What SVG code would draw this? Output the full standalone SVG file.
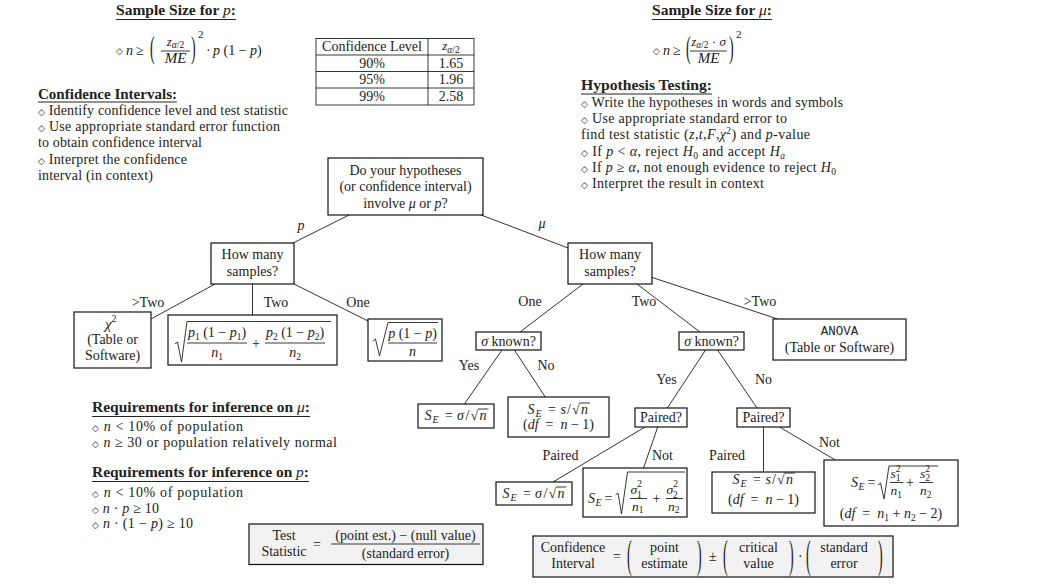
<svg xmlns="http://www.w3.org/2000/svg" width="1038" height="586" viewBox="0 0 1038 586">
<style>
svg{font-family:"Liberation Serif","Times New Roman",serif;font-size:14px}
text{fill:#222}
.h{font-weight:bold;font-size:15px}
.n{font-weight:normal}
.i{font-style:italic}
.c{text-anchor:middle}
.s{font-size:9.5px}
.d{font-family:"DejaVu Sans",sans-serif;font-size:9px}
.mono{font-family:"Liberation Mono",monospace;font-size:12.5px}
.ul{stroke:#222;stroke-width:1}
.box{fill:#fff;stroke:#111;stroke-width:1.2}
.gbox{fill:#f2f2f2;stroke:#111;stroke-width:1.2}
.edge{stroke:#333;stroke-width:1;fill:none}
.rule{stroke:#222;stroke-width:0.9}
.rad{stroke:#222;stroke-width:0.9;fill:none;stroke-linejoin:round}
.tbl{stroke:#222;stroke-width:0.9;fill:none}
</style>
<rect width="1038" height="586" fill="#fff"/>

<g id="sample-size-p">
<text class="h" x="116" y="15" textLength="120" lengthAdjust="spacingAndGlyphs">Sample Size for <tspan class="i n">p</tspan>:</text>
<line class="ul" x1="116" y1="19.5" x2="236" y2="19.5"/>
<text class="d" x="116" y="54">◇</text>
<text class="i" x="126" y="55">n</text>
<text x="136" y="55">≥</text>
<text transform="translate(150,57.8) scale(1,2.3)">(</text>
<text class="c" x="175.5" y="46" font-size="13"><tspan class="i">z</tspan><tspan class="i" font-size="9.5" dy="2">α</tspan><tspan font-size="9.5">/2</tspan></text>
<line class="rule" x1="161" y1="51" x2="190" y2="51"/>
<text class="i c" x="175.5" y="63" font-size="15">ME</text>
<text transform="translate(191,57.8) scale(1,2.3)">)</text>
<text x="198" y="38" font-size="11">2</text>
<text x="206" y="55">·</text>
<text x="213" y="55"><tspan class="i">p</tspan> (1 − <tspan class="i">p</tspan>)</text>
</g>

<g id="z-table">
<rect class="tbl" x="316" y="38.5" width="158" height="66.5"/>
<line class="tbl" x1="428" y1="38.5" x2="428" y2="105"/>
<line class="tbl" x1="316" y1="55" x2="474" y2="55"/>
<line class="tbl" x1="316" y1="71.5" x2="474" y2="71.5"/>
<line class="tbl" x1="316" y1="88" x2="474" y2="88"/>
<text class="c" x="372" y="51">Confidence Level</text>
<text class="c" x="451" y="50"><tspan class="i" font-size="13">z</tspan><tspan class="i" font-size="9.5" dy="2.5">α</tspan><tspan font-size="9.5">/2</tspan></text>
<text class="c" x="372" y="67.5">90%</text>
<text class="c" x="451" y="67.5">1.65</text>
<text class="c" x="372" y="84">95%</text>
<text class="c" x="451" y="84">1.96</text>
<text class="c" x="372" y="100.5">99%</text>
<text class="c" x="451" y="100.5">2.58</text>
</g>

<g id="confidence-intervals">
<text class="h" x="38" y="98.5" textLength="139" lengthAdjust="spacingAndGlyphs">Confidence Intervals:</text>
<line class="ul" x1="38" y1="102" x2="177" y2="102"/>
<text x="38" y="114.5" textLength="250"><tspan class="d">◇</tspan> Identify confidence level and test statistic</text>
<text x="38" y="131" textLength="242"><tspan class="d">◇</tspan> Use appropriate standard error function</text>
<text x="38" y="147" textLength="164">to obtain confidence interval</text>
<text x="38" y="163.5" textLength="149"><tspan class="d">◇</tspan> Interpret the confidence</text>
<text x="38" y="180" textLength="115">interval (in context)</text>
</g>

<g id="sample-size-mu">
<text class="h" x="652" y="15" textLength="120" lengthAdjust="spacingAndGlyphs">Sample Size for <tspan class="i n">μ</tspan>:</text>
<line class="ul" x1="652" y1="19.5" x2="772" y2="19.5"/>
<text class="d" x="653" y="54">◇</text>
<text class="i" x="663" y="55">n</text>
<text x="673" y="55">≥</text>
<text transform="translate(686,57.8) scale(1,2.3)">(</text>
<text class="c" x="708.5" y="46" font-size="13"><tspan class="i">z</tspan><tspan class="i" font-size="9.5" dy="2">α</tspan><tspan font-size="9.5">/2</tspan><tspan dy="-2"> · </tspan><tspan class="i">σ</tspan></text>
<line class="rule" x1="690" y1="51" x2="727" y2="51"/>
<text class="i c" x="708.5" y="63" font-size="15">ME</text>
<text transform="translate(729,57.8) scale(1,2.3)">)</text>
<text x="736" y="38" font-size="11">2</text>
</g>

<g id="hypothesis-testing">
<text class="h" x="581" y="90" textLength="131" lengthAdjust="spacingAndGlyphs">Hypothesis Testing:</text>
<line class="ul" x1="581" y1="94" x2="712" y2="94"/>
<text x="581" y="107" textLength="262"><tspan class="d">◇</tspan> Write the hypotheses in words and symbols</text>
<text x="581" y="123" textLength="206"><tspan class="d">◇</tspan> Use appropriate standard error to</text>
<text x="581" y="139" textLength="229">find test statistic (<tspan class="i">z</tspan>,<tspan class="i">t</tspan>,<tspan class="i">F</tspan>,<tspan class="i">χ</tspan><tspan font-size="9.5" dy="-5">2</tspan><tspan dy="5">) and </tspan><tspan class="i">p</tspan>-value</text>
<text x="581" y="156" textLength="204"><tspan class="d">◇</tspan> If <tspan class="i">p</tspan> &lt; <tspan class="i">α</tspan>, reject <tspan class="i">H</tspan><tspan font-size="9.5" dy="2.5">0</tspan><tspan dy="-2.5"> and accept </tspan><tspan class="i">H</tspan><tspan class="i" font-size="9.5" dy="2.5">a</tspan></text>
<text x="581" y="172" textLength="255"><tspan class="d">◇</tspan> If <tspan class="i">p</tspan> ≥ <tspan class="i">α</tspan>, not enough evidence to reject <tspan class="i">H</tspan><tspan font-size="9.5" dy="2.5">0</tspan></text>
<text x="581" y="188" textLength="183"><tspan class="d">◇</tspan> Interpret the result in context</text>
</g>

<g id="requirements">
<text class="h" x="92" y="412" textLength="218" lengthAdjust="spacingAndGlyphs">Requirements for inference on <tspan class="i n">μ</tspan>:</text>
<line class="ul" x1="92" y1="416.5" x2="310" y2="416.5"/>
<text x="92" y="431" textLength="151"><tspan class="d">◇</tspan> <tspan class="i">n</tspan> &lt; 10% of population</text>
<text x="92" y="447" textLength="245"><tspan class="d">◇</tspan> <tspan class="i">n</tspan> ≥ 30 or population relatively normal</text>
<text class="h" x="92" y="477" textLength="217" lengthAdjust="spacingAndGlyphs">Requirements for inference on <tspan class="i n">p</tspan>:</text>
<line class="ul" x1="92" y1="481.5" x2="309" y2="481.5"/>
<text x="92" y="497" textLength="151"><tspan class="d">◇</tspan> <tspan class="i">n</tspan> &lt; 10% of population</text>
<text x="92" y="512.5" textLength="67"><tspan class="d">◇</tspan> <tspan class="i">n</tspan> · <tspan class="i">p</tspan> ≥ 10</text>
<text x="92" y="528" textLength="101"><tspan class="d">◇</tspan> <tspan class="i">n</tspan> · (1 − <tspan class="i">p</tspan>) ≥ 10</text>
</g>

<g id="connectors">
<line class="edge" x1="349" y1="215" x2="293" y2="243"/>
<line class="edge" x1="481" y1="215" x2="568" y2="248"/>
<line class="edge" x1="215" y1="284" x2="151" y2="319"/>
<line class="edge" x1="252.5" y1="284" x2="252.5" y2="315"/>
<line class="edge" x1="294" y1="284" x2="368" y2="321"/>
<line class="edge" x1="583" y1="284" x2="520" y2="332"/>
<line class="edge" x1="637" y1="284" x2="700" y2="332"/>
<line class="edge" x1="652" y1="277.4" x2="777.6" y2="319"/>
<line class="edge" x1="502" y1="350" x2="464.4" y2="404"/>
<line class="edge" x1="514.4" y1="350" x2="545.3" y2="397"/>
<line class="edge" x1="705.6" y1="350" x2="667.3" y2="408"/>
<line class="edge" x1="717.6" y1="350" x2="757" y2="408"/>
<line class="edge" x1="645" y1="427" x2="553" y2="482"/>
<line class="edge" x1="657.7" y1="427" x2="643.5" y2="468"/>
<line class="edge" x1="763.5" y1="427" x2="763.5" y2="472"/>
<line class="edge" x1="779.5" y1="427" x2="835.3" y2="460"/>
</g>

<g id="edge-labels">
<text class="i c" x="301" y="230">p</text>
<text class="i c" x="542" y="228">μ</text>
<text class="c" x="148" y="307">&gt;Two</text>
<text class="c" x="276" y="307">Two</text>
<text class="c" x="358" y="307">One</text>
<text class="c" x="530" y="306">One</text>
<text class="c" x="644" y="306">Two</text>
<text class="c" x="760" y="306">&gt;Two</text>
<text class="c" x="469" y="370">Yes</text>
<text class="c" x="546" y="370">No</text>
<text class="c" x="666.5" y="384">Yes</text>
<text class="c" x="763.5" y="384">No</text>
<text class="c" x="560.5" y="460">Paired</text>
<text class="c" x="662.5" y="460">Not</text>
<text class="c" x="727" y="460">Paired</text>
<text class="c" x="829.5" y="447">Not</text>
</g>

<g id="node-root">
<rect class="box" x="328" y="158" width="155" height="57"/>
<text class="c" x="405.5" y="174.5">Do your hypotheses</text>
<text class="c" x="405.5" y="190.5">(or confidence interval)</text>
<text class="c" x="405.5" y="207.5">involve <tspan class="i">μ</tspan> or <tspan class="i">p</tspan>?</text>
</g>

<g id="node-samples-p">
<rect class="box" x="211" y="243" width="83" height="41"/>
<text class="c" x="252.5" y="259">How many</text>
<text class="c" x="252.5" y="276">samples?</text>
</g>

<g id="node-samples-mu">
<rect class="box" x="568" y="243" width="84" height="41"/>
<text class="c" x="610" y="259">How many</text>
<text class="c" x="610" y="276">samples?</text>
</g>

<g id="node-chi2">
<rect class="box" x="74" y="312" width="77" height="56"/>
<text x="105" y="328.5"><tspan class="i" font-size="15">χ</tspan><tspan font-size="10" dy="-6.5">2</tspan></text>
<text class="c" x="112.5" y="344">(Table or</text>
<text class="c" x="112.5" y="360">Software)</text>
</g>

<g id="node-two-prop">
<rect class="box" x="168" y="315" width="169" height="50"/>
<polyline class="rad" points="175,344 177.5,342 181.5,362 187,321.5 331,321.5"/>
<text class="c" x="217" y="337"><tspan class="i">p</tspan><tspan class="s" dy="2.5">1</tspan><tspan dy="-2.5"> (1 − </tspan><tspan class="i">p</tspan><tspan class="s" dy="2.5">1</tspan><tspan dy="-2.5">)</tspan></text>
<line class="rule" x1="187" y1="343" x2="247" y2="343"/>
<text class="c" x="217" y="357"><tspan class="i">n</tspan><tspan class="s" dy="2.5">1</tspan></text>
<text class="c" x="256" y="347.5">+</text>
<text class="c" x="295" y="337"><tspan class="i">p</tspan><tspan class="s" dy="2.5">2</tspan><tspan dy="-2.5"> (1 − </tspan><tspan class="i">p</tspan><tspan class="s" dy="2.5">2</tspan><tspan dy="-2.5">)</tspan></text>
<line class="rule" x1="265" y1="343" x2="325" y2="343"/>
<text class="c" x="295" y="357"><tspan class="i">n</tspan><tspan class="s" dy="2.5">2</tspan></text>
</g>

<g id="node-one-prop">
<rect class="box" x="368" y="319" width="74" height="42"/>
<polyline class="rad" points="373,341 375.5,339 379.5,356 388,322.5 438,322.5"/>
<text class="c" x="412.5" y="338"><tspan class="i">p</tspan> (1 − <tspan class="i">p</tspan>)</text>
<line class="rule" x1="388" y1="343" x2="437" y2="343"/>
<text class="i c" x="412.5" y="356">n</text>
</g>

<g id="node-anova">
<rect class="box" x="773" y="319" width="133" height="41"/>
<text class="mono c" x="839.5" y="335">ANOVA</text>
<text class="c" x="839.5" y="352">(Table or Software)</text>
</g>

<g id="node-sigma-known-1">
<rect class="box" x="476" y="332" width="65" height="18"/>
<text class="c" x="508.5" y="346"><tspan class="i">σ</tspan> known?</text>
</g>

<g id="node-sigma-known-2">
<rect class="box" x="679" y="332" width="65" height="18"/>
<text class="c" x="711.5" y="346"><tspan class="i">σ</tspan> known?</text>
</g>

<g id="node-se-sigma-1">
<rect class="box" x="418" y="404" width="76" height="24"/>
<text class="i" x="424.5" y="420">S</text>
<text class="i" x="432.5" y="423" font-size="10">E</text>
<text x="445" y="420">=</text>
<text class="i" x="457" y="420">σ</text>
<text x="465.5" y="420">/</text>
<text x="470.5" y="420">√</text>
<text class="i" x="479.5" y="420">n</text>
<line class="rule" x1="478" y1="409" x2="488.5" y2="409"/>
</g>

<g id="node-se-s-1">
<rect class="box" x="508" y="397" width="101" height="40"/>
<text class="i" x="527.5" y="414">S</text>
<text class="i" x="535.5" y="417" font-size="10">E</text>
<text x="548" y="414">=</text>
<text class="i" x="560.5" y="414">s</text>
<text x="567" y="414">/</text>
<text x="572" y="414">√</text>
<text class="i" x="581" y="414">n</text>
<line class="rule" x1="579.5" y1="403" x2="590" y2="403"/>
<text class="c" x="558.5" y="429" xml:space="preserve">(<tspan class="i">df</tspan>  =  <tspan class="i">n</tspan> − 1)</text>
</g>

<g id="node-paired-1">
<rect class="box" x="635" y="408" width="52" height="19"/>
<text class="c" x="661" y="422">Paired?</text>
</g>

<g id="node-paired-2">
<rect class="box" x="737" y="408" width="53" height="19"/>
<text class="c" x="763.5" y="422">Paired?</text>
</g>

<g id="node-se-sigma-2">
<rect class="box" x="496" y="482" width="76" height="23"/>
<text class="i" x="502.5" y="498">S</text>
<text class="i" x="510.5" y="501" font-size="10">E</text>
<text x="523" y="498">=</text>
<text class="i" x="535" y="498">σ</text>
<text x="543.5" y="498">/</text>
<text x="548.5" y="498">√</text>
<text class="i" x="557.5" y="498">n</text>
<line class="rule" x1="556" y1="487" x2="566.5" y2="487"/>
</g>

<g id="node-se-two-sigma">
<rect class="box" x="583" y="468" width="104" height="49"/>
<text class="i" x="588" y="502.5">S</text>
<text class="i" x="595.5" y="505.5" font-size="10">E</text>
<text x="604.5" y="502.5">=</text>
<polyline class="rad" points="615.5,495 618,493 621.5,514 627.5,472 685,472"/>
<text x="630.5" y="494" font-size="13.5"><tspan class="i">σ</tspan><tspan font-size="9.5" dy="-7">2</tspan><tspan font-size="9.5" dx="-4.8" dy="10.5">1</tspan></text>
<line class="rule" x1="630" y1="498.5" x2="647" y2="498.5"/>
<text x="632" y="510.5" font-size="13.5"><tspan class="i">n</tspan><tspan font-size="9.5" dy="2.5">1</tspan></text>
<text x="652.5" y="502.5">+</text>
<text x="666.5" y="494" font-size="13.5"><tspan class="i">σ</tspan><tspan font-size="9.5" dy="-7">2</tspan><tspan font-size="9.5" dx="-4.8" dy="10.5">2</tspan></text>
<line class="rule" x1="666" y1="498.5" x2="683" y2="498.5"/>
<text x="668" y="510.5" font-size="13.5"><tspan class="i">n</tspan><tspan font-size="9.5" dy="2.5">2</tspan></text>
</g>

<g id="node-se-s-2">
<rect class="box" x="712" y="472" width="103" height="41"/>
<text class="i" x="732.5" y="484">S</text>
<text class="i" x="740.5" y="487" font-size="10">E</text>
<text x="753" y="484">=</text>
<text class="i" x="765.5" y="484">s</text>
<text x="772" y="484">/</text>
<text x="777" y="484">√</text>
<text class="i" x="786" y="484">n</text>
<line class="rule" x1="784.5" y1="473" x2="795" y2="473"/>
<text class="c" x="763.5" y="504" xml:space="preserve">(<tspan class="i">df</tspan>  =  <tspan class="i">n</tspan> − 1)</text>
</g>

<g id="node-se-two-s">
<rect class="box" x="824" y="460" width="134" height="66"/>
<text class="i" x="851" y="486.5">S</text>
<text class="i" x="858.5" y="489.5" font-size="10">E</text>
<text x="867.5" y="486.5">=</text>
<polyline class="rad" points="878,485 880.5,483 884,499 889,466 938,466"/>
<text x="890.5" y="478" font-size="13.5"><tspan class="i">s</tspan><tspan font-size="9.5" dy="-6">2</tspan><tspan font-size="9.5" dx="-4.8" dy="9">1</tspan></text>
<line class="rule" x1="890" y1="482.5" x2="903" y2="482.5"/>
<text x="890.5" y="495" font-size="13.5"><tspan class="i">n</tspan><tspan font-size="9.5" dy="2.5">1</tspan></text>
<text x="906" y="486.5">+</text>
<text x="920" y="478" font-size="13.5"><tspan class="i">s</tspan><tspan font-size="9.5" dy="-6">2</tspan><tspan font-size="9.5" dx="-4.8" dy="9">2</tspan></text>
<line class="rule" x1="919.5" y1="482.5" x2="933" y2="482.5"/>
<text x="920" y="495" font-size="13.5"><tspan class="i">n</tspan><tspan font-size="9.5" dy="2.5">2</tspan></text>
<text class="c" x="891" y="518" xml:space="preserve">(<tspan class="i">df</tspan>  =  <tspan class="i">n</tspan><tspan class="s" dy="2.5">1</tspan><tspan dy="-2.5"> + </tspan><tspan class="i">n</tspan><tspan class="s" dy="2.5">2</tspan><tspan dy="-2.5"> − 2)</tspan></text>
</g>

<g id="test-statistic">
<rect class="gbox" x="249" y="524" width="234" height="40.5"/>
<text class="c" x="284" y="539.5">Test</text>
<text class="c" x="284" y="556">Statistic</text>
<text x="313" y="548.5">=</text>
<text class="c" x="405.5" y="539.5">(point est.) − (null value)</text>
<line class="rule" x1="331" y1="544" x2="480" y2="544"/>
<text class="c" x="405.5" y="557.5">(standard error)</text>
</g>

<g id="confidence-interval">
<rect class="gbox" x="533" y="536" width="360" height="41"/>
<text class="c" x="573" y="551.5">Confidence</text>
<text class="c" x="573" y="567.5">Interval</text>
<text x="613" y="561">=</text>
<text transform="translate(627,567.5) scale(1,2.9)">(</text>
<text class="c" x="664.5" y="551.5">point</text>
<text class="c" x="664.5" y="567.5">estimate</text>
<text transform="translate(697,567.5) scale(1,2.9)">)</text>
<text x="709" y="561">±</text>
<text transform="translate(723,567.5) scale(1,2.9)">(</text>
<text class="c" x="758.5" y="551.5">critical</text>
<text class="c" x="758.5" y="567.5">value</text>
<text transform="translate(789,567.5) scale(1,2.9)">)</text>
<text x="798" y="561">·</text>
<text transform="translate(806,567.5) scale(1,2.9)">(</text>
<text class="c" x="844" y="551.5">standard</text>
<text class="c" x="844" y="567.5">error</text>
<text transform="translate(878,567.5) scale(1,2.9)">)</text>
</g>
</svg>
